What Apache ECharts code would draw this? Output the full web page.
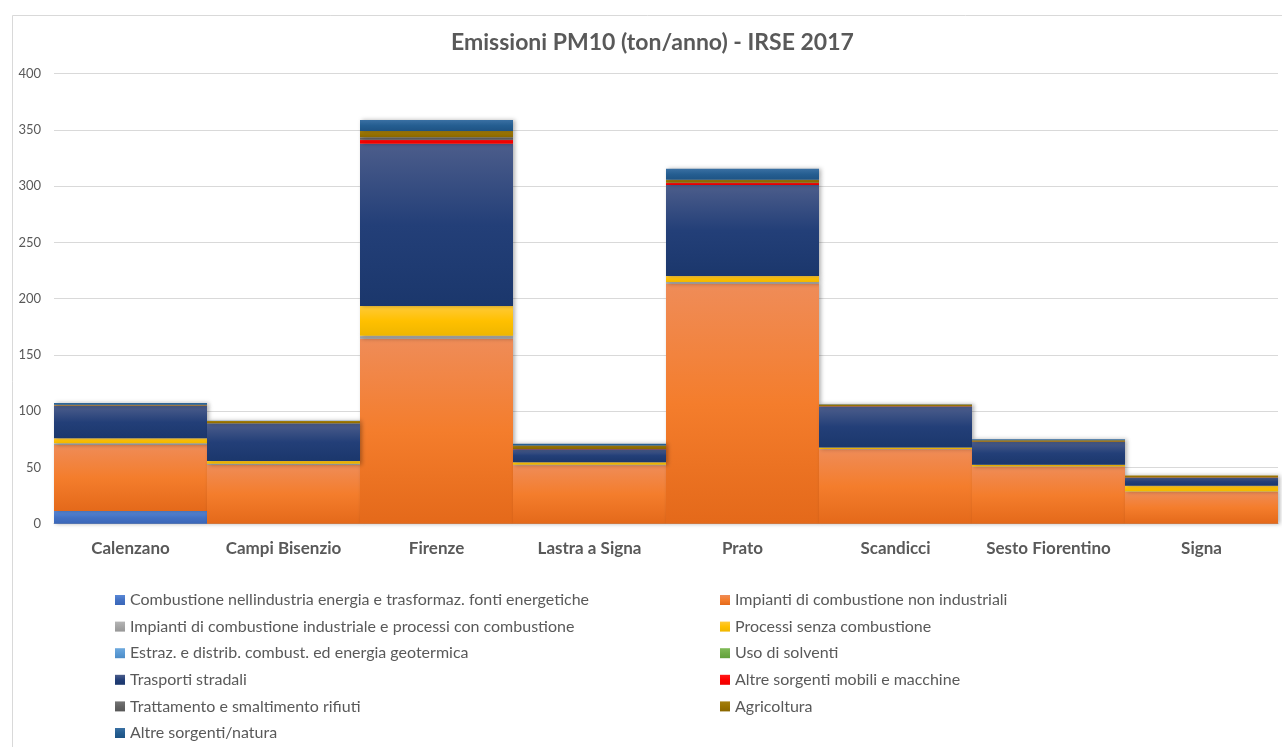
<!DOCTYPE html>
<html>
<head>
<meta charset="utf-8">
<script src="https://cdn.jsdelivr.net/npm/echarts@6/dist/echarts.min.js"></script>
<style>
  html, body { margin: 0; padding: 0; background: #ffffff; }
  #chart { width: 1282px; height: 747px; }
</style>
</head>
<body>
<div id="chart"></div>
<script>
// Emissioni PM10 per comune e macrosettore (ton/anno), inventario IRSE 2017
const categories = ['Calenzano', 'Campi Bisenzio', 'Firenze', 'Lastra a Signa', 'Prato', 'Scandicci', 'Sesto Fiorentino', 'Signa'];

const sectorNames = [
  'Combustione nellindustria energia e trasformaz. fonti energetiche',
  'Impianti di combustione non industriali',
  'Impianti di combustione industriale e processi con combustione',
  'Processi senza combustione',
  'Estraz. e distrib. combust. ed energia geotermica',
  'Uso di solventi',
  'Trasporti stradali',
  'Altre sorgenti mobili e macchine',
  'Trattamento e smaltimento rifiuti',
  'Agricoltura',
  'Altre sorgenti/natura'
];

const combustioneIndustria   = [11.3, 0.0, 0.0, 0.0, 0.0, 0.0, 0.0, 0.0];
const impiantiNonIndustriali = [58.7, 52.2, 164.4, 52.0, 213.3, 66.1, 50.7, 28.4];
const impiantiIndustriali    = [1.5, 1.2, 2.7, 0.5, 1.5, 0.3, 0.2, 0.2];
const processiSenzaComb      = [4.4, 2.4, 26.4, 2.1, 5.3, 1.4, 1.6, 5.2];
const estrazDistrib          = [0.0, 0.0, 0.0, 0.0, 0.0, 0.0, 0.0, 0.0];
const usoSolventi            = [0.0, 0.0, 0.0, 0.0, 0.0, 0.0, 0.0, 0.0];
const trasportiStradali      = [28.7, 33.2, 144.3, 11.6, 80.9, 36.4, 20.2, 7.1];
const altreSorgentiMobili    = [0.3, 0.1, 3.6, 0.1, 1.8, 0.1, 0.1, 0.1];
const trattamentoRifiuti     = [0.1, 0.1, 2.1, 0.1, 0.2, 0.1, 0.1, 0.0];
const agricoltura            = [0.8, 2.1, 5.6, 3.2, 2.7, 1.5, 1.2, 1.8];
const altreSorgentiNatura    = [1.5, 0.3, 9.8, 1.5, 9.8, 0.3, 0.9, 0.1];

const sectorValues = [
  combustioneIndustria, impiantiNonIndustriali, impiantiIndustriali, processiSenzaComb,
  estrazDistrib, usoSolventi, trasportiStradali, altreSorgentiMobili,
  trattamentoRifiuti, agricoltura, altreSorgentiNatura
];

// vertical gradient per sector: top, middle, bottom
const sectorShades = [
  ['#5a88d6', '#4472c4', '#3a66b8'],
  ['#ef8c58', '#f47d2c', '#e4691a'],
  ['#b5b5b5', '#a5a5a5', '#979797'],
  ['#ffca38', '#ffc000', '#efb600'],
  ['#6ea9dd', '#5b9bd5', '#4d8cc6'],
  ['#80bb58', '#70ad47', '#62a03b'],
  ['#4c5d8b', '#233f78', '#1b376c'],
  ['#ff1a1a', '#ff0000', '#ee0000'],
  ['#747474', '#636363', '#575757'],
  ['#a47f10', '#997300', '#8a6600'],
  ['#3a70a3', '#255e91', '#1e5384']
];

function shade(c) {
  return new echarts.graphic.LinearGradient(0, 0, 0, 1, [
    { offset: 0, color: c[0] },
    { offset: 0.5, color: c[1] },
    { offset: 1, color: c[2] }
  ]);
}

const series = sectorNames.map((name, i) => ({
  name: name,
  type: 'bar',
  stack: 'pm10',
  barCategoryGap: '0%',
  data: sectorValues[i],
  itemStyle: {
    color: shade(sectorShades[i]),
    shadowColor: 'rgba(0,0,0,0.30)',
    shadowBlur: 4,
    shadowOffsetX: 2,
    shadowOffsetY: 0
  },
  emphasis: { disabled: true }
}));

const legendText = { color: '#595959', fontSize: 16, fontFamily: 'Lato', lineHeight: 16 };

function legendColumn(left, names) {
  return {
    orient: 'vertical',
    left: left, top: 592,
    width: 560, height: 160,
    padding: 0,
    itemWidth: 10, itemHeight: 10, itemGap: 10.6,
    icon: 'rect',
    textStyle: legendText,
    data: names
  };
}

const chart = echarts.init(document.getElementById('chart'), null, { renderer: 'canvas' });
chart.setOption({
  animation: false,
  backgroundColor: '#ffffff',
  title: {
    text: 'Emissioni PM10 (ton/anno) - IRSE 2017',
    left: 451,
    top: 31,
    padding: 0,
    textStyle: { color: '#595959', fontSize: 23, fontWeight: 'bold', fontFamily: 'Lato' }
  },
  graphic: [{
    type: 'rect',
    left: 10, top: 13,
    shape: { width: 1290, height: 760 },
    style: { fill: 'none', stroke: '#d9d9d9', lineWidth: 1 },
    silent: true,
    z: -1
  }],
  legend: [
    legendColumn(115, sectorNames.filter((_, i) => i % 2 === 0)),
    legendColumn(720, sectorNames.filter((_, i) => i % 2 === 1))
  ],
  grid: { left: 54, right: 4, top: 73.7, bottom: 223.3, containLabel: false },
  xAxis: {
    type: 'category',
    data: categories,
    axisTick: { show: false },
    axisLine: { lineStyle: { color: '#bfbfbf', width: 1 } },
    axisLabel: { interval: 0, color: '#595959', fontSize: 17, fontWeight: 'bold', fontFamily: 'Lato', margin: 16 }
  },
  yAxis: {
    type: 'value',
    min: 0, max: 400, interval: 50,
    axisLine: { show: false },
    axisTick: { show: false },
    splitLine: { lineStyle: { color: '#d9d9d9', width: 1 } },
    axisLabel: { color: '#595959', fontSize: 13, fontFamily: 'Lato', margin: 13 }
  },
  series: series
});
</script>
</body>
</html>
